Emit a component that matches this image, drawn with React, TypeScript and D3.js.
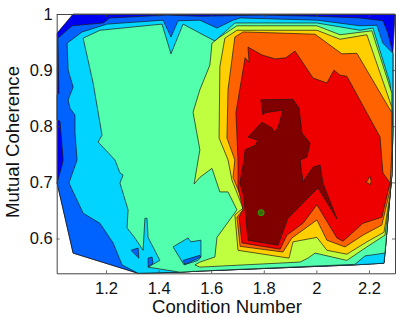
import React, { useEffect, useRef } from "react"
import * as d3 from "d3"

type Pt = [number, number]

const xTicks = [1.2, 1.4, 1.6, 1.8, 2, 2.2]
const yTicks = [0.6, 0.7, 0.8, 0.9, 1]

const marker: Pt = [1.79, 0.646]

// shared right/bottom edge of the filled region
const rightEdge: Pt[] = [[2.291, 0.793], [2.287, 0.713], [2.28, 0.677], [2.261, 0.574]]
const bottomEdge: Pt[] = [[2.257, 0.556], [2.147, 0.553], [1.557, 0.542], [1.481, 0.54], [1.322, 0.538]]

const blueLevel: Pt[] = [[1.014, 0.966], [1.075, 1], [2.299, 1], [2.291, 0.93], ...rightEdge, ...bottomEdge, [1.075, 0.574], [1.014, 0.699]]

const azureLevel: Pt[] = [[1.017, 0.957], [1.071, 0.979], [1.189, 0.984], [1.215, 0.993], [1.432, 0.998], [1.557, 0.996], [1.797, 0.998], [1.998, 0.996], [2.166, 0.993], [2.253, 0.988], [2.272, 0.966], [2.291, 0.93], ...rightEdge, ...bottomEdge, [1.075, 0.574], [1.014, 0.699], [1.033, 0.731], [1.037, 0.74], [1.025, 0.809], [1.014, 0.811], [1.014, 0.856], [1.021, 0.859]]

const cyanLevel: Pt[] = [[1.052, 0.948], [1.109, 0.968], [1.204, 0.982], [1.417, 0.989], [1.447, 0.959], [1.474, 0.988], [1.557, 0.989], [1.622, 0.975], [1.683, 0.989], [1.71, 0.993], [2.002, 0.989], [2.166, 0.979], [2.23, 0.98], [2.253, 0.948], [2.291, 0.93], ...rightEdge, ...bottomEdge, [1.261, 0.553], [1.227, 0.592], [1.177, 0.627], [1.113, 0.645], [1.059, 0.699], [1.09, 0.74], [1.082, 0.788], [1.082, 0.82], [1.063, 0.832], [1.056, 0.847], [1.075, 0.87], [1.056, 0.9]]

const mintLevel: Pt[] = [[1.113, 0.957], [1.177, 0.971], [1.413, 0.982], [1.447, 0.929], [1.493, 0.982], [1.557, 0.966], [1.614, 0.952], [1.69, 0.984], [2.002, 0.984], [2.166, 0.971], [2.215, 0.975], [2.28, 0.877], ...rightEdge, [2.185, 0.569], [2.147, 0.554], [1.557, 0.542], [1.481, 0.54], [1.36, 0.549], [1.405, 0.561], [1.36, 0.602], [1.356, 0.636], [1.348, 0.636], [1.341, 0.579], [1.31, 0.601], [1.28, 0.619], [1.284, 0.651], [1.253, 0.699], [1.265, 0.713], [1.253, 0.717], [1.234, 0.74], [1.17, 0.772], [1.185, 0.784], [1.151, 0.877]]

const limeLevel: Pt[] = [[1.603, 0.948], [1.633, 0.959], [1.698, 0.979], [2.002, 0.979], [2.09, 0.963], [2.211, 0.97], [2.287, 0.859], [2.287, 0.713], [2.28, 0.677], [2.261, 0.606], [2.192, 0.585], [2.116, 0.561], [1.995, 0.574], [1.968, 0.565], [1.938, 0.558], [1.557, 0.549], [1.538, 0.553], [1.557, 0.558], [1.614, 0.567], [1.622, 0.602], [1.698, 0.651], [1.664, 0.683], [1.633, 0.683], [1.603, 0.725], [1.557, 0.709], [1.535, 0.697], [1.557, 0.758], [1.531, 0.825], [1.557, 0.865], [1.595, 0.909]]

const goldLevel: Pt[] = [[1.652, 0.957], [1.698, 0.971], [2.002, 0.971], [2.09, 0.955], [2.192, 0.963], [2.287, 0.834], [2.28, 0.677], [2.257, 0.611], [2.192, 0.594], [2.116, 0.572], [2.04, 0.579], [2.002, 0.602], [1.911, 0.594], [1.896, 0.565], [1.702, 0.579], [1.69, 0.642], [1.721, 0.654], [1.679, 0.704], [1.664, 0.74], [1.63, 0.779], [1.633, 0.906]]

const orangeLevel: Pt[] = [[1.69, 0.959], [1.721, 0.968], [1.862, 0.966], [1.995, 0.964], [2.097, 0.929], [2.154, 0.93], [2.287, 0.824], [2.287, 0.758], [2.28, 0.686], [2.249, 0.624], [2.177, 0.606], [2.109, 0.585], [2.04, 0.597], [2.002, 0.633], [1.907, 0.601], [1.873, 0.576], [1.71, 0.586], [1.698, 0.638], [1.729, 0.656], [1.683, 0.709], [1.69, 0.74], [1.66, 0.779], [1.664, 0.865]]

const redLevel: Pt[] = [[1.729, 0.922], [1.744, 0.914], [1.74, 0.941], [1.793, 0.927], [1.843, 0.92], [1.884, 0.922], [1.919, 0.934], [1.987, 0.886], [2.04, 0.877], [2.067, 0.9], [2.09, 0.891], [2.116, 0.889], [2.242, 0.781], [2.249, 0.74], [2.253, 0.717], [2.28, 0.699], [2.249, 0.638], [2.177, 0.627], [2.101, 0.595], [2.078, 0.601], [2.002, 0.66], [1.949, 0.627], [1.888, 0.606], [1.862, 0.581], [1.717, 0.592], [1.706, 0.638], [1.721, 0.651], [1.702, 0.692], [1.702, 0.74], [1.694, 0.824]]

const darkRedLevel: Pt[] = [[1.789, 0.847], [1.911, 0.848], [1.934, 0.832], [1.945, 0.788], [1.976, 0.77], [1.964, 0.745], [1.938, 0.74], [1.949, 0.701], [1.987, 0.727], [2.014, 0.731], [2.025, 0.699], [2.078, 0.635], [2.006, 0.69], [1.892, 0.636], [1.854, 0.588], [1.74, 0.597], [1.729, 0.651], [1.721, 0.681], [1.709, 0.699], [1.725, 0.74], [1.729, 0.758], [1.767, 0.766], [1.778, 0.775], [1.74, 0.781], [1.793, 0.807], [1.831, 0.797], [1.839, 0.79], [1.854, 0.797], [1.873, 0.829], [1.805, 0.824], [1.797, 0.82]]

// small closed islands painted after the big levels
const cyanIsland: Pt[] = [[1.455, 0.585], [1.512, 0.601], [1.523, 0.594], [1.561, 0.597], [1.561, 0.567], [1.55, 0.561], [1.497, 0.553]]
const azureIslandA: Pt[] = [[1.493, 0.561], [1.557, 0.57], [1.561, 0.567], [1.5, 0.554]]
const azureIslandB: Pt[] = [[1.295, 0.579], [1.322, 0.583], [1.325, 0.565]]
const azureIslandC: Pt[] = [[1.36, 0.565], [1.375, 0.567], [1.379, 0.556], [1.36, 0.549]]
const orangeIsland: Pt[] = [[2.19, 0.7], [2.203, 0.711], [2.209, 0.702], [2.205, 0.696]]

const levels: [Pt[], string][] = [
  [blueLevel, "#0000f0"],
  [azureLevel, "#0062ff"],
  [cyanLevel, "#00d4ff"],
  [mintLevel, "#52ffad"],
  [limeLevel, "#bfff3f"],
  [goldLevel, "#ffcf00"],
  [orangeLevel, "#ff6200"],
  [redLevel, "#ee0000"],
  [darkRedLevel, "#800000"],
  [cyanIsland, "#00d4ff"],
  [azureIslandA, "#0062ff"],
  [azureIslandB, "#0062ff"],
  [azureIslandC, "#0062ff"],
  [orangeIsland, "#ff6200"],
]

const w = 399
const h = 318
const margin = { left: 56.7, right: 4, top: 14, bottom: 44.7 }
const font = "'Liberation Sans', Arial, sans-serif"

export default function App() {
  const ref = useRef<SVGSVGElement>(null)

  useEffect(() => {
    const svg = d3.select(ref.current)
    svg.selectAll("*").remove()

    const x = d3.scaleLinear().domain([1.0125, 2.299]).range([margin.left, w - margin.right])
    const y = d3.scaleLinear().domain([0.538, 1]).range([h - margin.bottom, margin.top])

    const line = d3.line<Pt>()
      .x((d) => x(d[0]))
      .y((d) => y(d[1]))
      .curve(d3.curveLinearClosed)

    svg.append("g")
      .selectAll("path")
      .data(levels)
      .enter()
      .append("path")
      .attr("d", (d) => line(d[0]))
      .attr("fill", (d) => d[1])
      .attr("stroke", "#1a1a1a")
      .attr("stroke-width", 0.7)
      .attr("stroke-linejoin", "round")

    const mx = x(marker[0])
    const my = y(marker[1])
    svg.append("circle").attr("cx", mx).attr("cy", my).attr("r", 3).attr("fill", "#3c6a08").attr("stroke", "#2aa000").attr("stroke-width", 1)
    svg.append("path")
      .attr("d", d3.symbol(d3.symbolTimes, 22)())
      .attr("transform", `translate(${mx},${my})`)
      .attr("fill", "#2aa000")

    const drawAxis = (axis: d3.Axis<d3.NumberValue>, tx: number, ty: number, labels: boolean) => {
      const g = svg.append("g").attr("transform", `translate(${tx},${ty})`).call(axis)
      g.select(".domain").attr("stroke", "#444").attr("stroke-width", 1)
      g.selectAll(".tick line").attr("stroke", "#444").attr("stroke-width", 0.8)
      g.selectAll("text")
        .attr("font-family", font)
        .attr("font-size", 16.5)
        .attr("fill", "#111")
        .style("display", labels ? null : "none")
    }

    const fmt = (d: d3.NumberValue) => String(d)
    const bottom = h - margin.bottom
    const right = w - margin.right

    drawAxis(d3.axisBottom(x).tickValues(xTicks).tickSize(-3).tickSizeOuter(0).tickPadding(9).tickFormat(fmt), 0, bottom, true)
    drawAxis(d3.axisTop(x).tickValues(xTicks).tickSize(-3).tickSizeOuter(0).tickFormat(fmt), 0, margin.top, false)
    drawAxis(d3.axisLeft(y).tickValues(yTicks).tickSize(-3).tickSizeOuter(0).tickPadding(4).tickFormat(fmt), margin.left, 0, true)
    drawAxis(d3.axisRight(y).tickValues(yTicks).tickSize(-3).tickSizeOuter(0).tickFormat(fmt), right, 0, false)

    svg.append("text")
      .attr("x", 227)
      .attr("y", 313)
      .attr("text-anchor", "middle")
      .attr("font-family", font)
      .attr("font-size", 18.6)
      .attr("fill", "#111")
      .text("Condition Number")

    svg.append("text")
      .attr("transform", "translate(19,142) rotate(-90)")
      .attr("text-anchor", "middle")
      .attr("font-family", font)
      .attr("font-size", 18.6)
      .attr("fill", "#111")
      .text("Mutual Coherence")
  }, [])

  return <svg ref={ref} width={w} height={h} style={{ position: "absolute", left: 0, top: 0, background: "#fff" }} />
}
